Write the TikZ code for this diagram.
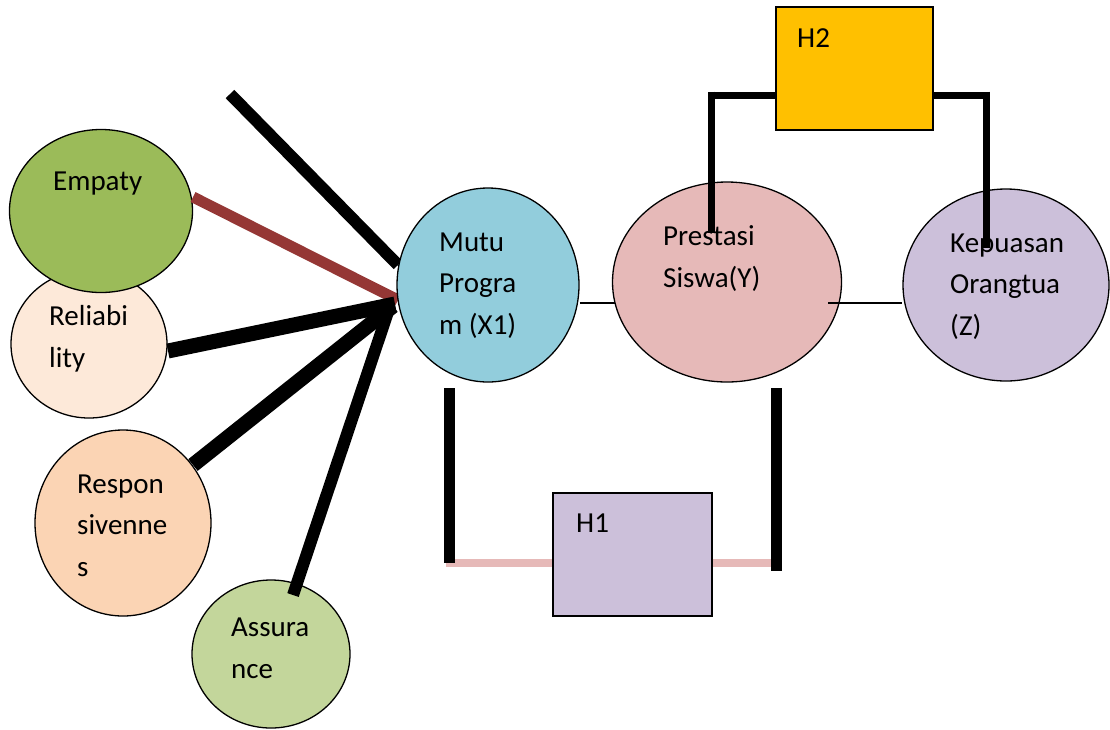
\documentclass[tikz,border=0pt]{standalone}
\usepackage{fontspec}
\setmainfont{Carlito}
\usetikzlibrary{shapes.geometric}
\definecolor{cEmp}{HTML}{9BBB59}
\definecolor{cRel}{HTML}{FDE9D9}
\definecolor{cMutu}{HTML}{92CDDC}
\definecolor{cPres}{HTML}{E6B9B8}
\definecolor{cKep}{HTML}{CCC0DA}
\definecolor{cHtwo}{HTML}{FFC000}
\definecolor{cResp}{HTML}{FBD4B4}
\definecolor{cAss}{HTML}{C3D69B}
\definecolor{cBrown}{HTML}{953735}
\begin{document}
\begin{tikzpicture}[x=1pt,y=-1pt,
  blob/.style={draw=black,line width=1.3pt,ellipse,inner sep=0pt},
  hbox/.style={draw=black,line width=1.3pt,rectangle,inner sep=0pt},
  lbl/.style={anchor=base west,inner sep=0pt,font=\fontsize{29}{41.5}\selectfont,align=left},
  heavy/.style={line width=#1,black},
  thin/.style={line width=1.3pt,black}]
\useasboundingbox (0,0) rectangle (1110,729);
% lines to hub (drawn below circles)
\coordinate (hubA) at (398,265);
\coordinate (hubB) at (398,300);
\coordinate (hubC) at (395,304);
\coordinate (hubD) at (393,306);
\coordinate (hubE) at (390,306);
\coordinate (topfree) at (230,94);
\coordinate (empEnd) at (193,197);
\coordinate (relEnd) at (168,351);
\coordinate (respEnd) at (193,465);
\coordinate (assEnd) at (293,595);
% circles
\node[blob,fill=cRel,minimum width=156,minimum height=148] (rel) at (89,344) {};
\node[blob,fill=cEmp,minimum width=183,minimum height=163] (emp) at (101,211) {};
\node[blob,fill=cResp,minimum width=176,minimum height=186] (resp) at (123,523) {};
\node[blob,fill=cAss,minimum width=158,minimum height=148] (ass) at (271,654) {};
\draw[heavy=12pt] (topfree) -- (hubA);
\draw[line width=11pt,cBrown] (empEnd) -- (hubB);
\draw[heavy=15pt] (relEnd) -- (hubC);
\draw[heavy=15pt] (respEnd) -- (hubD);
\draw[heavy=12pt] (assEnd) -- (hubE);
\node[blob,fill=cMutu,minimum width=182,minimum height=194] (mutu) at (488,285) {};
\node[blob,fill=cPres,minimum width=229,minimum height=200] (pres) at (727,282) {};
\node[blob,fill=cKep,minimum width=206,minimum height=192] (kep) at (1006,285) {};
% thin connectors
\coordinate (mpR) at (615,303);
\coordinate (pkL) at (828,303);
\draw[thin] (mutu.east |- mpR) -- (mpR);
\draw[thin] (pkL) -- (kep.west |- pkL);
% H2
\node[hbox,fill=cHtwo,minimum width=157,minimum height=123] (h2) at (854.5,68.5) {};
\coordinate (h2L) at (711,95);
\coordinate (h2Ld) at (711,233);
\coordinate (h2R) at (986,95);
\coordinate (h2Rd) at (986,248);
\draw[heavy=7pt] (h2.west |- h2L) -- ([xshift=-3.5pt]h2L) ;
\draw[heavy=7pt] ([yshift=3.5pt]h2L) -- (h2Ld);
\draw[heavy=7pt] (h2.east |- h2R) -- ([xshift=3.5pt]h2R);
\draw[heavy=7pt] ([yshift=3.5pt]h2R) -- (h2Rd);
% H1
\node[hbox,fill=cKep,minimum width=159,minimum height=123] (h1) at (632.5,554.5) {};
\coordinate (h1Lt) at (449,388);
\coordinate (h1Lb) at (449,563);
\coordinate (h1Rt) at (776,388);
\coordinate (h1Rb) at (776,571);
\draw[line width=8pt,cPres] ([xshift=-3pt]h1Lb) -- (h1.west |- h1Lb);
\draw[line width=8pt,cPres] (h1.east |- h1Lb) -- (h1Rb |- h1Lb);
\draw[heavy=11pt] (h1Lt) -- (h1Lb);
\draw[heavy=11pt] (h1Rt) -- (h1Rb);
% labels (base anchor = last line baseline)
\node[lbl] (tEmp) at (53,190) {Empaty};
\node[lbl] (tRel) at (49,367) {Reliabi\\lity};
\node[lbl] (tMutu) at (439,334) {Mutu\\Progra\\m (X1)};
\node[lbl] (tPres) at (663,287) {Prestasi\\Siswa(Y)};
\node[lbl] (tKep) at (950,335) {Kepuasan\\Orangtua\\(Z)};
\node[lbl] (tH2) at (797,47) {H2};
\node[lbl] (tH1) at (576,532) {H1};
\node[lbl] (tResp) at (77,576) {Respon\\sivenne\\s};
\node[lbl] (tAss) at (231,678) {Assura\\nce};
\end{tikzpicture}
\end{document}
